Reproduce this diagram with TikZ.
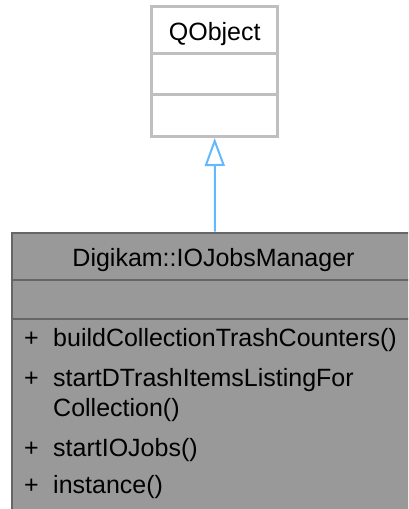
\documentclass[tikz,border=0pt]{standalone}
\usepackage{fontspec}
\setmainfont{Liberation Sans}
\usetikzlibrary{arrows.meta}
\definecolor{qborder}{HTML}{BFBFBF}
\definecolor{cfill}{HTML}{999999}
\definecolor{cborder}{HTML}{666666}
\definecolor{inh}{HTML}{63B8FF}
\begin{document}
\begin{tikzpicture}[x=1pt,y=-1pt,
  txt/.style={inner sep=0pt,anchor=base,font=\fontsize{25}{30}\selectfont},
  mtxt/.style={txt,anchor=base west},
  qbox/.style={draw=qborder,line width=2.6pt,fill=white,inner sep=0pt},
  cbox/.style={draw=cborder,line width=2pt,fill=cfill,inner sep=0pt},
  inharrow/.style={draw=inh,line width=2pt,-{Triangle[open,length=28pt,width=20pt,fill=white]}}
]
\useasboundingbox (0,0) rectangle (408,509);
\clip (0,0) rectangle (408,509);
% base class
\node[qbox,minimum width=126pt,minimum height=130pt] (qobj) at (214.7,71.7) {};
\draw[qborder,line width=2.6pt] (qobj.west |- 0,53.3) -- (qobj.east |- 0,53.3);
\draw[qborder,line width=2.6pt] (qobj.west |- 0,94.3) -- (qobj.east |- 0,94.3);
\node[txt] (qname) at (214.7,40) {QObject};
% derived class
\node[cbox,minimum width=406.6pt,minimum height=290pt] (cls) at (215,377.7) {};
\draw[cborder,line width=2pt] (cls.west |- 0,280) -- (cls.east |- 0,280);
\draw[cborder,line width=2pt] (cls.west |- 0,319.3) -- (cls.east |- 0,319.3);
\node[txt] (cname) at (213.5,266.7) {Digikam::IOJobsManager};
\node[mtxt] (p1) at (24,346.7) {+};
\node[mtxt] (m1) at (53,346.7) {buildCollectionTrashCounters()};
\node[mtxt] (p2) at (24,386.7) {+};
\node[mtxt] (m2) at (53,386.7) {startDTrashItemsListingFor};
\node[mtxt] (m2b) at (53,416) {Collection()};
\node[mtxt] (p3) at (24,456.7) {+};
\node[mtxt] (m3) at (53,456.7) {startIOJobs()};
\node[mtxt] (p4) at (24,493.3) {+};
\node[mtxt] (m4) at (53,493.3) {instance()};
% inheritance
\draw[inharrow] (cls.north) -- (qobj.south);
\end{tikzpicture}
\end{document}
